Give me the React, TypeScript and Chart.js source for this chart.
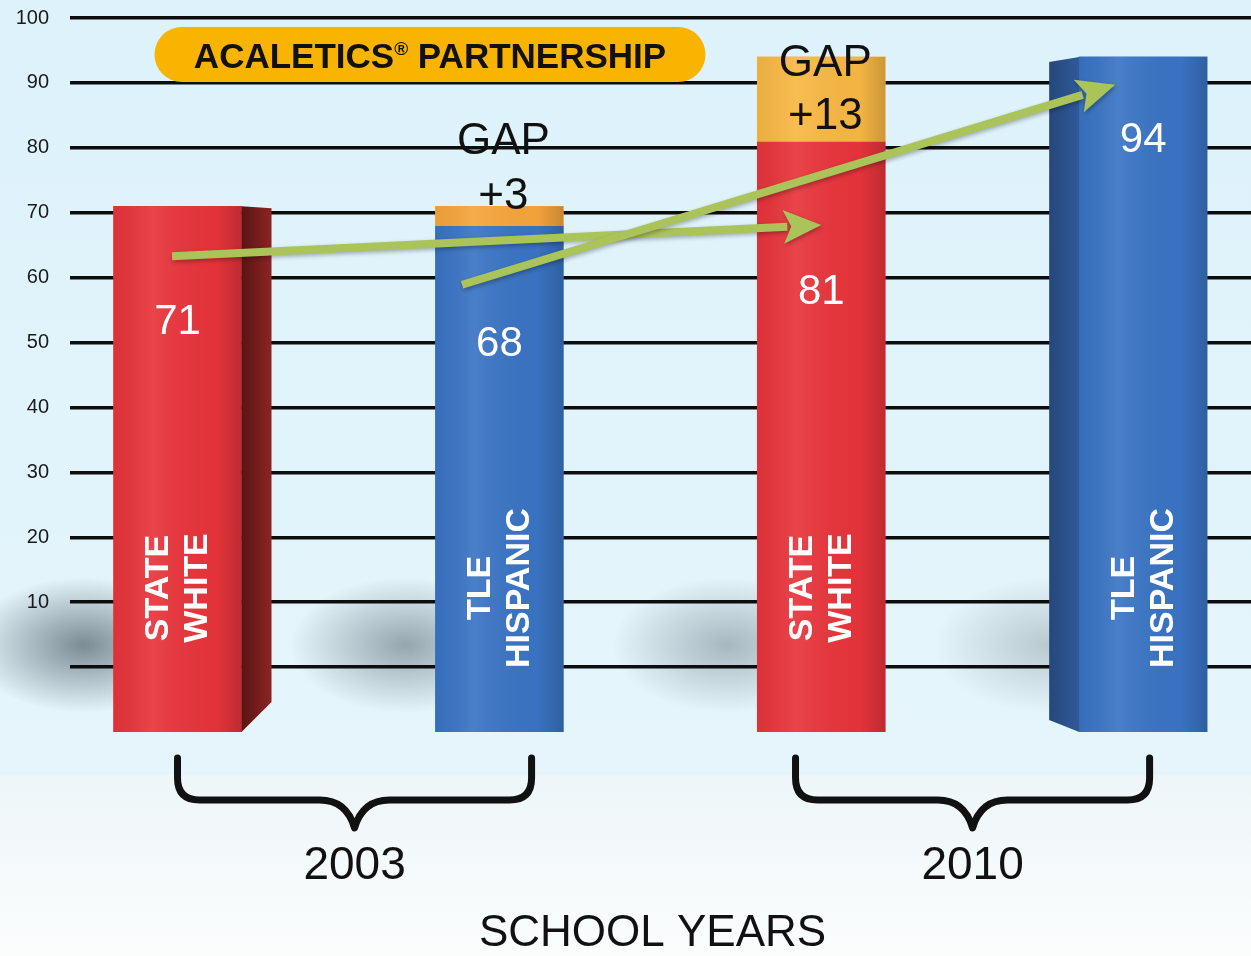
import React, { useEffect, useRef } from 'react';
import { Chart, registerables } from 'chart.js';

Chart.register(...registerables);

// ---------- data ----------
const barPositions = [1, 2, 3, 4];
const barNames = [
  ['STATE', 'WHITE'],
  ['TLE', 'HISPANIC'],
  ['STATE', 'WHITE'],
  ['TLE', 'HISPANIC'],
];
const scores = [71, 68, 81, 94];
const gapBars = [2, 3];
const gapFrom = [68, 81];
const gapTo = [71, 94];
const gapLabels = ['+3', '+13'];
const yTickLabels = [10, 20, 30, 40, 50, 60, 70, 80, 90, 100];
const baseline = -10;
const yearLabels = ['2003', '2010'];
const yearGroupStart = [1.0, 2.92];
const yearGroupEnd = [2.1, 4.02];
const arrowFromX = [0.983, 1.884];
const arrowFromY = [63.3, 58.9];
const arrowToX = [3.0, 3.913];
const arrowToY = [68.1, 89.7];
const bannerMain = 'ACALETICS';
const bannerMark = '®';
const bannerRest = ' PARTNERSHIP';
const xAxisTitle = 'SCHOOL YEARS';

// ---------- styles ----------
const FONT = '"Liberation Sans", Arial, Helvetica, sans-serif';
const RED = '#e8343b';
const BLUE = '#3a74c4';
const barColors = [RED, BLUE, RED, BLUE];
const gapColors = ['#f6a53c', '#f8b844'];
const shadowAlpha = [0.6, 0.45, 0.35, 0.25];
const valueDrop = [116, 119, 151, 83];
const nameOffsets = [-19, 20];

function overlayPlugin() {
  return {
    id: 'overlay',
    beforeDraw(chart: any) {
      const { ctx, width, height } = chart;
      ctx.save();
      const g = ctx.createLinearGradient(0, 0, 0, 775);
      g.addColorStop(0, '#ddf2fb');
      g.addColorStop(1, '#e5f5fb');
      ctx.fillStyle = g;
      ctx.fillRect(0, 0, width, 775);
      const g2 = ctx.createLinearGradient(0, 775, 0, height);
      g2.addColorStop(0, '#eef6f9');
      g2.addColorStop(1, '#fbfdfd');
      ctx.fillStyle = g2;
      ctx.fillRect(0, 775, width, height - 775);
      const meta = chart.getDatasetMeta(0);
      meta.data.forEach((el: any, i: number) => {
        const left = el.x - el.width / 2;
        ctx.save();
        ctx.translate(left - 30, 645);
        ctx.scale(1.35, 0.8);
        const rg = ctx.createRadialGradient(0, 0, 0, 0, 0, 85);
        rg.addColorStop(0, `rgba(55,70,80,${shadowAlpha[i]})`);
        rg.addColorStop(0.5, `rgba(55,70,80,${shadowAlpha[i] * 0.5})`);
        rg.addColorStop(1, 'rgba(55,70,80,0)');
        ctx.fillStyle = rg;
        ctx.beginPath();
        ctx.arc(0, 0, 85, 0, Math.PI * 2);
        ctx.fill();
        ctx.restore();
      });
      ctx.restore();
    },
    afterDatasetsDraw(chart: any) {
      const { ctx, chartArea } = chart;
      const xs = chart.scales.x;
      const ys = chart.scales.y;
      const m0 = chart.getDatasetMeta(0);
      const m1 = chart.getDatasetMeta(1);
      ctx.save();

      // shading on bar fronts
      [...m0.data, ...m1.data].forEach((el: any) => {
        const l = el.x - el.width / 2;
        const r = el.x + el.width / 2;
        const top = Math.min(el.y, el.base);
        const bot = Math.max(el.y, el.base);
        const sg = ctx.createLinearGradient(l, 0, r, 0);
        sg.addColorStop(0, 'rgba(0,0,0,0.05)');
        sg.addColorStop(0.3, 'rgba(255,255,255,0.08)');
        sg.addColorStop(0.8, 'rgba(0,0,0,0.02)');
        sg.addColorStop(1, 'rgba(0,0,0,0.18)');
        ctx.fillStyle = sg;
        ctx.fillRect(l, top, r - l, bot - top);
      });

      // side faces for first and last bar
      const b1: any = m0.data[0];
      {
        const r = b1.x + b1.width / 2;
        const top = b1.y;
        const bot = b1.base;
        const sg = ctx.createLinearGradient(r, 0, r + 30, 0);
        sg.addColorStop(0, '#5a1414');
        sg.addColorStop(1, '#8c2424');
        ctx.fillStyle = sg;
        ctx.beginPath();
        ctx.moveTo(r, top);
        ctx.lineTo(r + 30, top + 2);
        ctx.lineTo(r + 30, bot - 30);
        ctx.lineTo(r, bot);
        ctx.closePath();
        ctx.fill();
      }
      const b4: any = m0.data[3];
      {
        const l = b4.x - b4.width / 2;
        const top = b4.y;
        const bot = b4.base;
        const sg = ctx.createLinearGradient(l - 30, 0, l, 0);
        sg.addColorStop(0, '#26477c');
        sg.addColorStop(1, '#2f5a98');
        ctx.fillStyle = sg;
        ctx.beginPath();
        ctx.moveTo(l, top);
        ctx.lineTo(l - 30, top + 5);
        ctx.lineTo(l - 30, bot - 12);
        ctx.lineTo(l, bot);
        ctx.closePath();
        ctx.fill();
      }

      // value labels
      ctx.fillStyle = '#ffffff';
      ctx.textAlign = 'center';
      ctx.textBaseline = 'middle';
      ctx.font = `42px ${FONT}`;
      m0.data.forEach((el: any, i: number) => {
        ctx.fillText(String(scores[i]), el.x, el.y + valueDrop[i]);
      });

      // vertical names
      ctx.font = `bold 34px ${FONT}`;
      m0.data.forEach((el: any, i: number) => {
        barNames[i].forEach((line, j) => {
          ctx.save();
          ctx.translate(el.x + nameOffsets[j], 588);
          ctx.rotate(-Math.PI / 2);
          ctx.fillText(line, 0, 0);
          ctx.restore();
        });
      });

      // gap labels
      ctx.fillStyle = '#111111';
      ctx.font = `44px ${FONT}`;
      m1.data.forEach((el: any, i: number) => {
        const topY = ys.getPixelForValue(gapTo[i]);
        const inside = topY - chartArea.top < 60;
        const gy = inside ? topY + 7 : topY - 64;
        const vy = inside ? topY + 60 : topY - 9;
        ctx.fillText('GAP', el.x + 4, gy);
        ctx.fillText(gapLabels[i], el.x + 4, vy);
      });

      // arrows
      ctx.strokeStyle = '#abc45a';
      ctx.fillStyle = '#abc45a';
      ctx.lineWidth = 8;
      ctx.lineCap = 'butt';
      ctx.shadowColor = 'rgba(0,0,0,0.3)';
      ctx.shadowBlur = 4;
      ctx.shadowOffsetX = 1;
      ctx.shadowOffsetY = 2;
      arrowFromX.forEach((_, i) => {
        const x1 = xs.getPixelForValue(arrowFromX[i]);
        const y1 = ys.getPixelForValue(arrowFromY[i]);
        const x2 = xs.getPixelForValue(arrowToX[i]);
        const y2 = ys.getPixelForValue(arrowToY[i]);
        const ang = Math.atan2(y2 - y1, x2 - x1);
        const head = 38;
        const hw = 17;
        const bx = x2 - head * Math.cos(ang);
        const by = y2 - head * Math.sin(ang);
        ctx.beginPath();
        ctx.moveTo(x1, y1);
        ctx.lineTo(bx + 4 * Math.cos(ang), by + 4 * Math.sin(ang));
        ctx.stroke();
        ctx.beginPath();
        ctx.moveTo(x2, y2);
        ctx.lineTo(bx - hw * Math.sin(ang), by + hw * Math.cos(ang));
        ctx.lineTo(bx + 8 * Math.cos(ang), by + 8 * Math.sin(ang));
        ctx.lineTo(bx + hw * Math.sin(ang), by - hw * Math.cos(ang));
        ctx.closePath();
        ctx.fill();
      });
      ctx.shadowColor = 'rgba(0,0,0,0)';
      ctx.shadowBlur = 0;
      ctx.shadowOffsetX = 0;
      ctx.shadowOffsetY = 0;

      // banner
      {
        const bx = 155, by = 27, bw = 550, bh = 55, r = 27;
        ctx.fillStyle = '#f8b400';
        ctx.beginPath();
        ctx.moveTo(bx + r, by);
        ctx.lineTo(bx + bw - r, by);
        ctx.arc(bx + bw - r, by + r + 0.5, r + 0.5, -Math.PI / 2, Math.PI / 2);
        ctx.lineTo(bx + r, by + bh);
        ctx.arc(bx + r, by + r + 0.5, r + 0.5, Math.PI / 2, (3 * Math.PI) / 2);
        ctx.closePath();
        ctx.fill();
        ctx.fillStyle = '#111111';
        ctx.textAlign = 'left';
        ctx.textBaseline = 'alphabetic';
        const big = `bold 35px ${FONT}`;
        const small = `bold 19px ${FONT}`;
        ctx.font = big;
        const w1 = ctx.measureText(bannerMain).width;
        const w3 = ctx.measureText(bannerRest).width;
        ctx.font = small;
        const w2 = ctx.measureText(bannerMark).width;
        const total = w1 + w2 + w3;
        let x = bx + bw / 2 - total / 2;
        const base = by + bh / 2 + 13;
        ctx.font = big;
        ctx.fillText(bannerMain, x, base);
        x += w1;
        ctx.font = small;
        ctx.fillText(bannerMark, x, base - 13);
        x += w2;
        ctx.font = big;
        ctx.fillText(bannerRest, x, base);
      }

      // braces and year labels
      ctx.strokeStyle = '#111111';
      ctx.lineWidth = 7;
      ctx.lineJoin = 'round';
      ctx.lineCap = 'round';
      ctx.textAlign = 'center';
      ctx.textBaseline = 'middle';
      yearLabels.forEach((lab, i) => {
        const a = xs.getPixelForValue(yearGroupStart[i]);
        const b = xs.getPixelForValue(yearGroupEnd[i]);
        const mid = (a + b) / 2;
        const t = 758, h = 800, tip = 828;
        ctx.beginPath();
        ctx.moveTo(a, t);
        ctx.lineTo(a, h - 22);
        ctx.quadraticCurveTo(a, h, a + 22, h);
        ctx.lineTo(mid - 35, h);
        ctx.quadraticCurveTo(mid - 8, h, mid, tip);
        ctx.quadraticCurveTo(mid + 8, h, mid + 35, h);
        ctx.lineTo(b - 22, h);
        ctx.quadraticCurveTo(b, h, b, h - 22);
        ctx.lineTo(b, t);
        ctx.stroke();
        ctx.fillStyle = '#111111';
        ctx.font = `46px ${FONT}`;
        ctx.fillText(lab, mid, 866);
      });
      ctx.font = `44px ${FONT}`;
      ctx.fillText(xAxisTitle, (chartArea.left + chartArea.right) / 2 - 8, 934);
      ctx.restore();
    },
  };
}

export default function App() {
  const ref = useRef<HTMLCanvasElement | null>(null);
  useEffect(() => {
    document.body.style.margin = '0';
    const canvas = ref.current;
    if (!canvas) return;
    const chart = new Chart(canvas, {
      type: 'bar',
      data: {
        datasets: [
          {
            label: 'Score',
            data: barPositions.map((x, i) => ({ x, y: [baseline, scores[i]] })) as any,
            backgroundColor: barColors,
            barThickness: 128,
            grouped: false,
            order: 2,
          } as any,
          {
            label: 'Gap',
            data: gapBars.map((x, i) => ({ x, y: [gapFrom[i], gapTo[i]] })) as any,
            backgroundColor: gapColors,
            barThickness: 128,
            grouped: false,
            order: 1,
          } as any,
        ],
      },
      options: {
        responsive: false,
        animation: false,
        layout: { padding: { top: 18, bottom: 224, left: 0, right: 0 } },
        plugins: {
          legend: { display: false },
          tooltip: { enabled: false },
        },
        scales: {
          x: { type: 'linear', min: 0.666, max: 4.335, offset: false, display: false },
          y: {
            min: baseline,
            max: 100,
            afterFit: (s: any) => {
              s.width = 70;
              s.paddingTop = 0;
              s.paddingBottom = 0;
            },
            ticks: {
              stepSize: 10,
              padding: 21,
              color: '#1a1a1a',
              font: { family: FONT, size: 20 },
              callback: (v: any) => (yTickLabels.includes(Number(v)) ? String(v) : ''),
            },
            grid: {
              color: (c: any) => (c.tick && c.tick.value === baseline ? 'rgba(0,0,0,0)' : '#0d0d0d'),
              lineWidth: 3.5,
              drawTicks: false,
            },
            border: { display: false },
          },
        },
      } as any,
      plugins: [overlayPlugin()],
    });
    return () => chart.destroy();
  }, []);
  return <canvas ref={ref} width={1251} height={956} style={{ display: 'block' }} />;
}
